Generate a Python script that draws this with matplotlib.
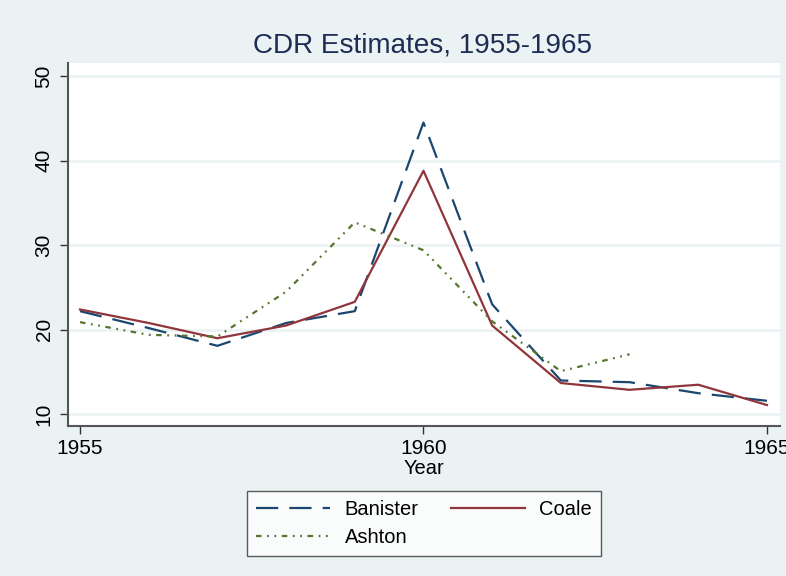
import matplotlib
matplotlib.use("Agg")
import matplotlib.pyplot as plt

plt.rcParams['font.family'] = ['Liberation Sans', 'DejaVu Sans']

years = [1955, 1956, 1957, 1958, 1959, 1960, 1961, 1962, 1963, 1964, 1965]
banister = [22.2, 20.2, 18.1, 20.8, 22.2, 44.5, 23.0, 14.0, 13.8, 12.5, 11.6]
coale = [22.4, 20.8, 19.0, 20.5, 23.3, 38.8, 20.5, 13.7, 12.9, 13.5, 11.1]
ashton_years = [1955, 1956, 1957, 1958, 1959, 1960, 1961, 1962, 1963]
ashton = [20.9, 19.4, 19.2, 24.5, 32.7, 29.4, 21.0, 15.1, 17.1]

yticks = [10, 20, 30, 40, 50]
xticks = [1955, 1960, 1965]

bg = '#eaf2f3'
fig = plt.figure(figsize=(7.86, 5.76), dpi=100, facecolor=bg)
ax = fig.add_axes([67.5/786, 1-426/576, (780-67.5)/786, (426-63)/576])
ax.set_facecolor('white')

ax.set_xlim(1954.818, 1965.19)
ax.set_ylim(8.62, 51.54)

for v in yticks:
    ax.axhline(v, color=bg, lw=1.8, zorder=1)

lb, = ax.plot(years, banister, color='#1a476f', lw=1.6, dashes=(10, 5), label='Banister', zorder=3)
lc, = ax.plot(years, coale, color='#90353b', lw=1.6, label='Coale', zorder=3)
la, = ax.plot(ashton_years, ashton, color='#55752f', lw=1.6, dashes=(2.5, 2.5, 0.8, 2.5, 0.8, 2.5), label='Ashton', zorder=3)

for s in ['top', 'right']:
    ax.spines[s].set_visible(False)
for s in ['left', 'bottom']:
    ax.spines[s].set_color('#555555')
    ax.spines[s].set_linewidth(1.5)

ax.set_xticks(xticks)
ax.set_yticks(yticks)
ax.tick_params(axis='both', direction='out', length=6, width=1.0, color='#333333', labelsize=15, labelcolor='black')
plt.setp(ax.get_yticklabels(), rotation=90, va='center')
ax.tick_params(axis='y', pad=4)
ax.tick_params(axis='x', pad=3)

ax.set_xlabel('Year', fontsize=14.5, labelpad=1)
fig.text(423/786, 1-45/576, 'CDR Estimates, 1955-1965', fontsize=20.1, color='#1e2d53', ha='center', va='center')

leg = fig.legend(handles=[lb, la, lc], labels=['Banister', 'Ashton', 'Coale'], ncol=2,
                 loc='center', bbox_to_anchor=(424/786, 1-523.5/576), fontsize=14.5,
                 frameon=True, fancybox=False, edgecolor='#333333', facecolor='white',
                 handlelength=3.7, handletextpad=0.7, columnspacing=1.6, labelspacing=0.45,
                 borderpad=0.45, borderaxespad=0)
leg.get_frame().set_linewidth(1.0)

fig.savefig('out.png', dpi=100, facecolor=bg)
